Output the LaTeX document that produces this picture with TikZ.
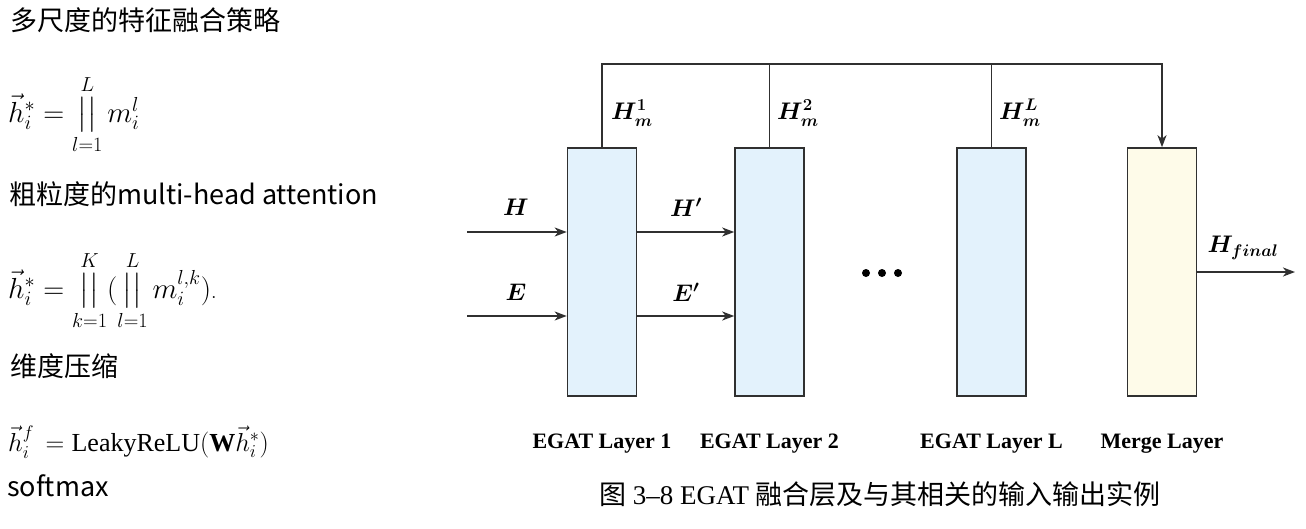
\RequirePackage{fix-cm}
\documentclass[tikz,border=0pt]{standalone}
\usepackage{amsmath,amssymb}
\usepackage{fontspec}
\usepackage{tikz}
\usetikzlibrary{
  arrows.meta,
  positioning,
  calc,
}
\setmainfont{Liberation Serif}
\newfontfamily\cjksans{Noto Sans CJK SC}
\newfontfamily\cjkserif{Noto Sans CJK SC}
\definecolor{layerBlue}{HTML}{E3F2FC}
\definecolor{mergeYellow}{HTML}{FEFBE9}
\definecolor{lineGray}{HTML}{303030}
\tikzset{
  layerbox/.style={
    rectangle, draw=lineGray, line width=1.6pt, fill=layerBlue,
    minimum width=69pt, minimum height=248pt, inner sep=0pt,
  },
  mergebox/.style={
    layerbox, fill=mergeYellow,
  },
  arrowFlow/.style={
    -{Stealth[length=12pt,width=9pt,inset=3.5pt]}, line width=1.6pt,
    draw=lineGray,
  },
  wire/.style={
    line width=1.6pt, draw=lineGray,
  },
  layerlabel/.style={
    inner sep=0pt, font=\fontsize{22}{26}\selectfont\bfseries,
  },
  mathlabel/.style={
    inner sep=2pt, font=\fontsize{24}{28}\selectfont,
  },
  cjktitle/.style={
    anchor=base west, inner sep=0pt, font=\fontsize{27}{32}\selectfont\cjksans,
  },
  formula/.style={
    anchor=base west, inner sep=0pt, font=\fontsize{29}{30}\selectfont,
  },
  formulaSmall/.style={
    formula, font=\fontsize{26}{30}\selectfont,
  },
}

\begin{document}
\begin{tikzpicture}[x=1pt, y=-1pt]
\useasboundingbox[fill=white] (0,0) rectangle (1306,528);

% Left column: headings and formulas
\node[cjktitle] (title1) at (10,30) {多尺度的特征融合策略};
\node[formula] (eq1) at (8,122)
   {$\vec{h}_i^{*} = \mathop{\big|\big|}\limits_{l=1}^{L} m_i^{l}$};
\node[cjktitle] (title2) at (9,204) {粗粒度的multi-head attention};
\node[formula] (eq2) at (8,298)
   {$\vec{h}_i^{*} = \mathop{\big|\big|}\limits_{k=1}^{K}
     (\mathop{\big|\big|}\limits_{l=1}^{L} m_i^{l,k})\mathclose{\scriptstyle.}$};
\node[cjktitle] (title3) at (10,376) {维度压缩};
\node[formulaSmall] (eq3) at (8,451)
   {$\vec{h}_i^{f} \,= \mathrm{LeakyReLU}(\mathbf{W}\vec{h}_i^{*})$};
\node[cjktitle] (title4) at (7,496) {softmax};

% Layers
\node[layerbox] (L1) at (602,272) {};
\node[layerbox] (L2) at (769.5,272) {};
\node[layerbox] (LL) at (991.5,272) {};
\node[mergebox] (merge) at (1162,272) {};

\node[layerlabel, below=37pt of L1] (lab1) {EGAT Layer 1};
\node[layerlabel, below=37pt of L2] (lab2) {EGAT Layer 2};
\node[layerlabel, below=37pt of LL] (labL) {EGAT Layer L};
\node[layerlabel, below=37pt of merge] (labM) {Merge Layer};

% Ellipsis between layer 2 and layer L
\foreach \dx in {-16,0,16}
  \fill[black] (882+\dx,273) circle (4pt);

% Inputs and layer-to-layer flow
\coordinate (inH) at (467,232);
\coordinate (inE) at (467,316);
\draw[arrowFlow] (inH) -- (inH -| L1.west);
\draw[arrowFlow] (inE) -- (inE -| L1.west);
\draw[arrowFlow] (L1.east |- inH) -- (L2.west |- inH);
\draw[arrowFlow] (L1.east |- inE) -- (L2.west |- inE);

\node[mathlabel] (lblH) at (516,207) {$\boldsymbol{H}$};
\node[mathlabel] (lblE) at (516,292) {$\boldsymbol{E}$};
\node[mathlabel] (lblHp) at (686,207) {$\boldsymbol{H'}$};
\node[mathlabel] (lblEp) at (686,292) {$\boldsymbol{E'}$};

% Collected layer outputs into merge layer
\coordinate (bus) at (0,64);
\draw[arrowFlow] (L1.north) -- (L1.north |- bus) -- (merge.north |- bus)
   -- (merge.north);
\draw[wire] (L2.north) -- (L2.north |- bus);
\draw[wire] (LL.north) -- (LL.north |- bus);

\node[mathlabel, anchor=west] (hm1) at (609,113) {$\boldsymbol{H_m^1}$};
\node[mathlabel, anchor=west] (hm2) at (775,113) {$\boldsymbol{H_m^2}$};
\node[mathlabel, anchor=west] (hmL) at (997,113) {$\boldsymbol{H_m^L}$};

% Final output
\coordinate (outF) at (1295,272);
\draw[arrowFlow] (merge.east) -- (outF);
\node[mathlabel] (lblF) at (1243,248) {$\boldsymbol{H_{final}}$};

% Caption
\node[inner sep=0pt, font=\fontsize{27}{32}\selectfont] (caption) at (880,494)
   {{\cjkserif 图}\ 3–8 EGAT\ {\cjkserif 融合层及与其相关的输入输出实例}};

\end{tikzpicture}
\end{document}
